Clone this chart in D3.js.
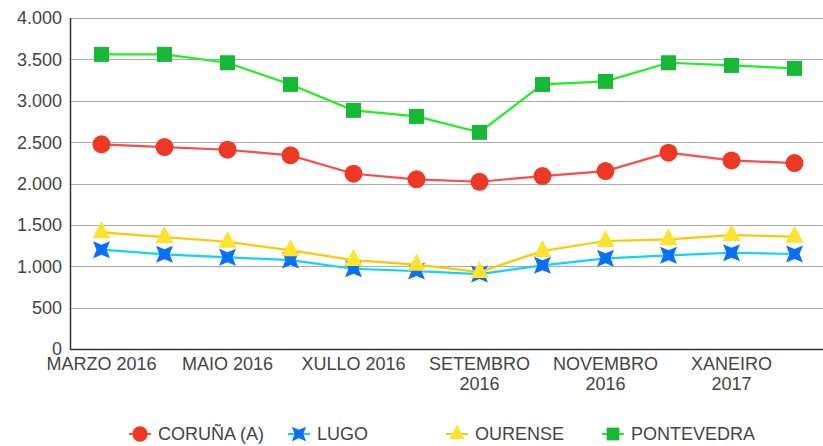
<!DOCTYPE html>
<html>
<head>
<meta charset="utf-8">
<script src="https://cdn.jsdelivr.net/npm/d3@7"></script>
<style>
  body { margin: 0; background: #fff; }
  text { font-family: "Liberation Sans", Arial, sans-serif; fill: #444; }
</style>
</head>
<body>
<div class="chart"></div>
<script>
var months = ["MARZO 2016", "ABRIL 2016", "MAIO 2016", "XUÑO 2016", "XULLO 2016", "AGOSTO 2016",
    "SETEMBRO 2016", "OUTUBRO 2016", "NOVEMBRO 2016", "DECEMBRO 2016", "XANEIRO 2017", "FEBREIRO 2017"];
var coruna = [2473, 2440, 2408, 2340, 2118, 2050, 2021, 2090, 2150, 2372, 2279, 2247];
var lugo = [1200, 1144, 1108, 1075, 970, 942, 906, 1011, 1096, 1132, 1163, 1148];
var ourense = [1410, 1353, 1296, 1192, 1075, 1019, 930, 1184, 1305, 1325, 1377, 1357];
var pontevedra = [3560, 3560, 3459, 3197, 2884, 2811, 2618, 3197, 3234, 3459, 3427, 3391];
var yTicks = [0, 500, 1000, 1500, 2000, 2500, 3000, 3500, 4000];

var series = [
    { name: "CORUÑA (A)", values: coruna, line: "#ff4a4a", fill: "#ee3826", shape: "circle" },
    { name: "LUGO", values: lugo, line: "#0fd2ff", fill: "#0c6ff8", shape: "star" },
    { name: "OURENSE", values: ourense, line: "#ffc800", fill: "#fde22e", shape: "triangle" },
    { name: "PONTEVEDRA", values: pontevedra, line: "#1ef01e", fill: "#17b835", shape: "square" }
];

var width = 823, height = 446;
var svg = d3.select(".chart").append("svg")
    .attr("width", width)
    .attr("height", height);

var x = d3.scaleBand().domain(months).range([70, 826]);
var y = d3.scaleLinear().domain([0, 4000]).range([349, 18]);
var fmt = d3.formatLocale({ decimal: ",", thousands: ".", grouping: [3], currency: ["", "€"] }).format(",d");

// grid
svg.append("g").selectAll("line").data(yTicks.slice(1)).enter().append("line")
    .attr("x1", 70).attr("x2", width)
    .attr("y1", d => Math.round(y(d)) + 0.5).attr("y2", d => Math.round(y(d)) + 0.5)
    .attr("stroke", "#acacac").attr("stroke-width", 1);

// y labels
svg.append("g").selectAll("text").data(yTicks).enter().append("text")
    .attr("x", 62).attr("y", d => y(d))
    .attr("dy", "0.36em")
    .attr("text-anchor", "end")
    .style("font-size", "18px")
    .text(d => fmt(d));

// axes
svg.append("line").attr("x1", 70.5).attr("x2", 70.5).attr("y1", 18).attr("y2", 350)
    .attr("stroke", "#333").attr("stroke-width", 1.5);
svg.append("line").attr("x1", 70).attr("x2", width).attr("y1", 349.5).attr("y2", 349.5)
    .attr("stroke", "#333").attr("stroke-width", 1.5);

// x labels, every second month, wrapped if long
var xl = svg.append("g").selectAll("text").data(months.filter((m, i) => i % 2 === 0)).enter().append("text")
    .attr("x", d => x(d) + x.bandwidth() / 2)
    .attr("y", 370)
    .attr("text-anchor", "middle")
    .style("font-size", "18px")
    .text(d => d);
xl.each(function (d) {
    var t = d3.select(this);
    if (this.getComputedTextLength() > 116) {
        var parts = d.split(" ");
        var cx = t.attr("x");
        t.text(null);
        t.append("tspan").attr("x", cx).text(parts[0]);
        t.append("tspan").attr("x", cx).attr("dy", 20).text(parts[1]);
    }
});

var starPath = function (r, ri) {
    var pts = [];
    for (var k = 0; k < 8; k++) {
        var a = Math.PI / 4 + k * Math.PI / 4;
        var rr = k % 2 === 0 ? r : ri;
        pts.push([rr * Math.cos(a), rr * Math.sin(a)]);
    }
    return "M" + pts.map(p => p.join(",")).join("L") + "Z";
};

function drawMarker(g, shape, fill) {
    if (shape === "circle") {
        g.append("circle").attr("r", 9).attr("fill", fill);
    } else if (shape === "square") {
        g.append("rect").attr("x", -7.5).attr("y", -7.5).attr("width", 15).attr("height", 15).attr("fill", fill);
    } else if (shape === "triangle") {
        g.append("path").attr("d", "M0,-11L9,6L-9,6Z").attr("fill", fill);
    } else {
        g.append("path").attr("d", starPath(12, 5)).attr("fill", fill);
    }
}

var line = d3.line()
    .x((d, i) => x(months[i]) + x.bandwidth() / 2)
    .y(d => y(d));

series.forEach(function (s) {
    var g = svg.append("g");
    g.append("path")
        .datum(s.values)
        .attr("fill", "none")
        .attr("stroke", s.line)
        .attr("stroke-width", 2.2)
        .attr("d", line);
    g.selectAll("g").data(s.values).enter().append("g")
        .attr("transform", (d, i) => `translate(${x(months[i]) + x.bandwidth() / 2},${y(d)})`)
        .each(function () { drawMarker(d3.select(this), s.shape, s.fill); });
});

// legend
var legendX = [140, 299, 457, 613];
var leg = svg.append("g").selectAll("g").data(series).enter().append("g")
    .attr("transform", (d, i) => `translate(${legendX[i]},434)`);
leg.append("line").attr("x1", -11).attr("x2", 11).attr("y1", 0).attr("y2", 0)
    .attr("stroke", d => d.line).attr("stroke-width", 2);
leg.each(function (d) {
    var g = d3.select(this).append("g").attr("transform", "scale(0.85)");
    drawMarker(g, d.shape, d.fill);
});
leg.append("text")
    .attr("x", 18).attr("y", 0).attr("dy", "0.36em")
    .style("font-size", "18px")
    .text(d => d.name);
</script>
</body>
</html>
